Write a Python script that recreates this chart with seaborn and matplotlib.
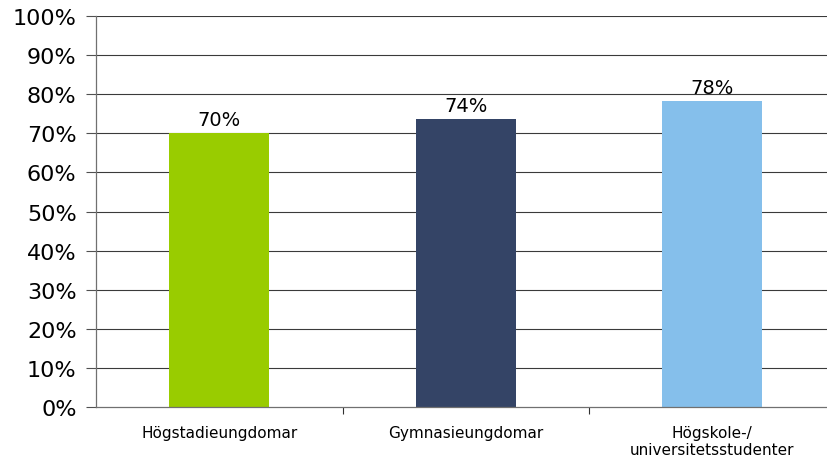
import numpy as np
import pandas as pd
import matplotlib
matplotlib.use("Agg")
import matplotlib.pyplot as plt
import seaborn as sns
from matplotlib.ticker import FixedLocator, PercentFormatter

# Data
categories = ["Högstadieungdomar", "Gymnasieungdomar", "Högskole-/\nuniversitetsstudenter"]
values = [70.1, 73.6, 78.2]
colors = ["#99CC00", "#344466", "#85BFEB"]
y_ticks = list(range(0, 101, 10))

df = pd.DataFrame({"group": categories, "share": values})

sns.set_style("white")
plt.rcParams["font.family"] = ["DejaVu Sans"]
plt.rcParams["text.color"] = "black"
plt.rcParams["xtick.color"] = "black"
plt.rcParams["ytick.color"] = "black"

fig = plt.figure(figsize=(8.28, 4.6), dpi=100)
ax = fig.add_axes([0.116, 0.113, 0.893, 0.850])

sns.barplot(data=df, x="group", y="share", hue="group", palette=colors,
            width=0.405, legend=False, ax=ax, saturation=1, linewidth=0)

ax.set_ylim(0, 100)
ax.set_xlim(-0.5, 2.5)
ax.set_yticks(y_ticks)
ax.yaxis.set_major_formatter(PercentFormatter(decimals=0))
for y in y_ticks[1:]:
    ax.axhline(y, color="#3a3a3a", lw=0.8, zorder=0)

ax.tick_params(axis="y", length=7, width=0.8, color="#505050", labelsize=16,
               pad=7, left=True, labelcolor="black")
ax.tick_params(axis="x", which="major", length=0, labelsize=11, pad=13, labelcolor="black")
ax.xaxis.set_minor_locator(FixedLocator([0.5, 1.5]))
ax.tick_params(axis="x", which="minor", length=5, width=0.8, color="#303030", bottom=True)

ax.set_xlabel("")
ax.set_ylabel("")
for s in ["top", "right"]:
    ax.spines[s].set_visible(False)
ax.spines["left"].set_color("#707070")
ax.spines["left"].set_linewidth(0.9)
ax.spines["bottom"].set_color("#707070")
ax.spines["bottom"].set_linewidth(0.9)

for cont in ax.containers:
    ax.bar_label(cont, labels=[f"{v:.0f}%" for v in cont.datavalues], padding=3,
                 fontsize=14, color="black")

fig.savefig("out.png", dpi=100)
